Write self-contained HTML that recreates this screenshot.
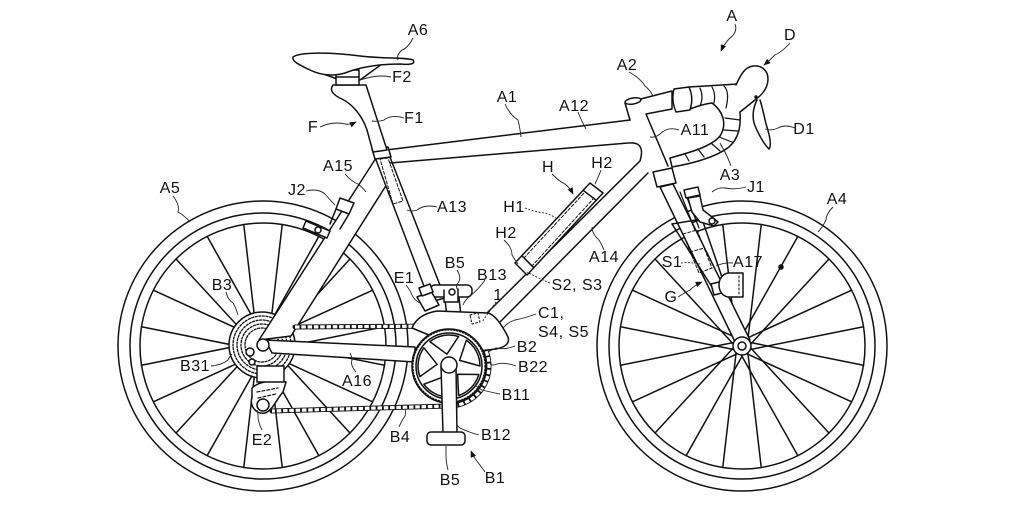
<!DOCTYPE html>
<html><head><meta charset="utf-8">
<style>
html,body{margin:0;padding:0;background:#fff;}
svg{display:block;}
text{font-family:"Liberation Sans",sans-serif;font-size:16px;fill:#111;letter-spacing:0.5px;}
</style></head><body>
<svg width="1024" height="508" viewBox="0 0 1024 508" xmlns="http://www.w3.org/2000/svg">
<defs>
<line id="spA" x1="5" y1="-2" x2="0" y2="-123"/>
<line id="spB" x1="-5" y1="-2" x2="0" y2="-123"/>
<marker id="ar" viewBox="0 0 10 10" refX="9" refY="5" markerUnits="userSpaceOnUse" markerWidth="7" markerHeight="7" orient="auto"><path d="M0,1 L10,5 L0,9 z" fill="#111" stroke="none"/></marker>
</defs>
<rect width="1024" height="508" fill="#fff"/>
<g fill="none" stroke="#111" stroke-width="1.5" stroke-linejoin="round" stroke-linecap="round">

<!-- REAR WHEEL -->
<g transform="translate(263 346)">
<circle r="145"/><circle r="133"/><circle r="123"/>
<use href="#spA" transform="rotate(9)"/><use href="#spB" transform="rotate(27)"/>
<use href="#spA" transform="rotate(45)"/><use href="#spB" transform="rotate(63)"/>
<use href="#spA" transform="rotate(81)"/><use href="#spB" transform="rotate(99)"/>
<use href="#spA" transform="rotate(117)"/><use href="#spB" transform="rotate(135)"/>
<use href="#spA" transform="rotate(153)"/><use href="#spB" transform="rotate(171)"/>
<use href="#spA" transform="rotate(189)"/><use href="#spB" transform="rotate(207)"/>
<use href="#spA" transform="rotate(225)"/><use href="#spB" transform="rotate(243)"/>
<use href="#spA" transform="rotate(261)"/><use href="#spB" transform="rotate(279)"/>
<use href="#spA" transform="rotate(297)"/><use href="#spB" transform="rotate(315)"/>
<use href="#spA" transform="rotate(333)"/><use href="#spB" transform="rotate(351)"/>
</g>

<!-- FRONT WHEEL -->
<g transform="translate(742 346)">
<circle r="145"/><circle r="133"/><circle r="123"/>
<use href="#spA" transform="rotate(9)"/><use href="#spB" transform="rotate(27)"/>
<use href="#spA" transform="rotate(45)"/><use href="#spB" transform="rotate(63)"/>
<use href="#spA" transform="rotate(81)"/><use href="#spB" transform="rotate(99)"/>
<use href="#spA" transform="rotate(117)"/><use href="#spB" transform="rotate(135)"/>
<use href="#spA" transform="rotate(153)"/><use href="#spB" transform="rotate(171)"/>
<use href="#spA" transform="rotate(189)"/><use href="#spB" transform="rotate(207)"/>
<use href="#spA" transform="rotate(225)"/><use href="#spB" transform="rotate(243)"/>
<use href="#spA" transform="rotate(261)"/><use href="#spB" transform="rotate(279)"/>
<use href="#spA" transform="rotate(297)"/><use href="#spB" transform="rotate(315)"/>
<use href="#spA" transform="rotate(333)"/><use href="#spB" transform="rotate(351)"/>
</g>

<!-- CASSETTE -->
<circle cx="262" cy="345" r="33" fill="#fff"/>
<g stroke-width="1.3" stroke-dasharray="2 1.6">
<circle cx="262" cy="345" r="29"/><circle cx="262" cy="345" r="25"/><circle cx="262" cy="345" r="21"/><circle cx="262" cy="345" r="17"/>
</g>

<!-- FRAME -->
<path d="M265,340 L415,347 L415,362 L272,353 Z" fill="#fff"/>
<path d="M259,340 L376,158 L387,184 L291,336 Z" fill="#fff"/>
<path d="M373,152 L388,152 L445,298 L430,302 Z" fill="#fff"/>
<path d="M380,159 L388,158 L403,201 L393,204 Z" stroke-dasharray="3 2" stroke-width="1"/>
<path d="M386,150 L630,120"/>
<path d="M390,163 L628,143 Q646,141 640,161 L487,313"/>
<path d="M648,173 L497,325"/>
<path d="M630,120 L625,103 L672,91 L672,109 L646,114 L668,166"/>
<ellipse cx="633" cy="101" rx="8" ry="3" transform="rotate(-10 633 101)" fill="#fff"/>
<path d="M372,149 L388,147 L391,157 L375,159 Z" fill="#fff"/>
<path d="M653,172 L672,168 L676,183 L657,187 Z" fill="#fff"/>
<path d="M660,187 L673,184 L750,340 L736,344 Z" fill="#fff"/>
<path d="M672,224 L702,219 L724,283 L712,287 Z"/>
<path d="M711,284 L723,281 L726,292 L714,295 Z" fill="#fff"/>
<path d="M683,234 L697,230 L712,268 L699,273 Z" stroke-dasharray="3 2" stroke-width="1"/>
<path d="M690,252 L704,248" stroke-dasharray="3 2" stroke-width="1"/>
<circle cx="742" cy="346" r="9" fill="#fff"/><circle cx="742" cy="346" r="4"/>
<circle cx="263" cy="345" r="6" fill="#fff"/>
<circle cx="250" cy="352" r="4" fill="#fff"/>
<circle cx="252" cy="362" r="3" fill="#fff"/>

<!-- CHAIN -->
<path d="M295,327 L449,326 A40 40 0 0 1 449,406 L272,411" stroke-width="5"/>
<path d="M295,327 L449,326 A40 40 0 0 1 449,406 L272,411" stroke="#fff" stroke-width="3.2" stroke-dasharray="4.5 1.8" stroke-linecap="butt"/>
<!-- rear derailleur -->
<path d="M252,388 C258,382 272,379 286,382 L283,392 C276,400 273,410 265,413 C256,415 249,405 252,398 Z" fill="#fff"/>
<path d="M257,392 L278,388" stroke-dasharray="3 2" stroke-width="1.2"/>
<path d="M258,398 L276,394" stroke-dasharray="3 2" stroke-width="1.2"/>
<circle cx="263" cy="405" r="6" fill="#fff"/>
<rect x="257" y="366" width="27" height="16" fill="#fff"/>

<!-- upper pedal (B5) -->
<path d="M444,290 L447,318 M458,289 L461,316"/>
<rect x="430" y="285" width="42" height="12" rx="5" fill="#fff"/>
<path d="M444,290 L444,302 L458,302 L458,289" fill="#fff"/>
<circle cx="452" cy="292" r="3"/>

<!-- motor housing C1 -->
<path d="M412,328 C416,318 425,313 437,311 L488,313 C496,315 504,329 508,337 C510,343 506,347 496,349 L470,352 Z" fill="#fff"/>
<path d="M470,315 L478,313 L480,322 L472,324 Z" stroke-dasharray="2 2" stroke-width="1"/>
<path d="M417,297 L431,291 L439,305 L425,311 Z" fill="#fff"/>
<path d="M419,288 L430,284 L433,292 L422,296 Z" fill="#fff"/>

<!-- CHAINRING -->
<circle cx="449" cy="366" r="37" fill="#fff"/>
<circle cx="449" cy="366" r="36" stroke-dasharray="1.5 1.5" stroke-width="1.1"/>
<circle cx="449" cy="366" r="33"/>
<path d="M446.9,354.2 L429.9,341.6 A31 31 0 0 1 458.6,336.5 Z"/>
<path d="M459.6,360.4 L466.3,340.3 A31 31 0 0 1 480,366 Z"/>
<path d="M457.6,374.3 L478.8,374.5 A31 31 0 0 1 458.6,395.5 Z"/>
<path d="M443.7,376.8 L450.1,397 A31 31 0 0 1 423.9,384.2 Z"/>
<path d="M437.1,364.3 L419.9,376.6 A31 31 0 0 1 423.9,347.8 Z"/>
<path d="M441,366 L443,433 L457,433 L456,366 Z" fill="#fff"/>
<circle cx="449" cy="365" r="8" fill="#fff"/>
<rect x="427" y="432" width="38" height="13" rx="4" fill="#fff"/>

<!-- SEAT POST & SADDLE -->
<path d="M333,85 L366,85 L387,150 L373,152 L367,130 C362,115 352,104 342,99 C333,95 329,90 333,85 Z" fill="#fff"/>
<path d="M318,72 L340,80 M382,64 L360,80"/>
<rect x="336" y="70" width="23" height="15" fill="#fff"/>
<path d="M336,77 L359,77"/>
<path d="M293,57 C300,52 330,52 360,56 C385,59 405,57 413,60 C416,64 410,65 400,64 C380,64 360,67 345,73 C335,76 322,76 310,70 C300,65 292,62 293,57 Z" fill="#fff"/>

<!-- HANDLEBAR -->
<path d="M689,87 L738,84"/>
<path d="M690,109 Q703,104 712,103"/>
<path d="M674,89 L689,87 Q694,98 690,110 L676,112 Q671,100 674,89 Z" fill="#fff"/>
<path d="M736,85 C741,74 745,67 753,66 C761,65 768,70 768,79 C768,88 762,95 755,100 L740,112" fill="#fff"/>
<path d="M740,112 C741,126 739,138 729,147 C716,157 695,163 672,167 L670,158 C692,152 712,146 720,136 C727,125 724,112 712,103"/>
<path d="M700,88 Q704,97 700,106 M712,87 Q716,94 714,103 M724,86 Q730,92 726,108" stroke-width="1.2"/>
<path d="M740,120 L725,118 M738,131 L724,130 M732,142 L719,137 M720,151 L711,143 M704,157 L698,149 M689,161 L685,154" stroke-width="1.2"/>
<path d="M757,100 C752,110 752,120 756,128 C760,137 765,145 769,149 C772,145 769,133 766,124 C764,115 762,106 760,100" fill="#fff"/>
<circle cx="756" cy="97" r="1" fill="#111"/>

<!-- J1 front brake -->
<path d="M680,192 L695,230 M684,190 L699,228" stroke-width="1.2"/>
<path d="M684,190 L698,187 L700,195 L686,198 Z" fill="#fff"/>
<path d="M688,198 L700,196 L703,210 L712,217 L718,222 L714,226 L700,222 L692,212 Z" fill="#fff"/>
<circle cx="712" cy="221" r="3"/>
<path d="M728,273 L743,273 L743,297 L728,297 C716,295 716,275 728,273 Z" fill="#fff"/>
<path d="M739,276 L739,294" stroke-dasharray="2 2" stroke-width="1"/>
<circle cx="781" cy="267" r="2" fill="#111"/>

<!-- J2 rear brake -->
<path d="M340,198 L354,203 L349,214 L336,209 Z" fill="#fff"/>
<path d="M336,209 L330,224 M349,214 L340,229"/>
<path d="M306,221 L330,231 L327,238 L303,228 Z" fill="#fff"/>
<circle cx="318" cy="230" r="3"/>

<!-- BATTERY H -->
<path d="M515,263 L527,275 L603,193 L590,183 Z" fill="#fff"/>
<path d="M521.8,255.7 L533.8,267.7 M583.2,190.3 L596.2,200.3"/>
<path d="M524,258 L585,192 L594,198 L532,266 Z" stroke-dasharray="3 2" stroke-width="1"/>
</g>

<!-- LEADERS -->
<g fill="none" stroke="#222" stroke-width="0.9">
<path d="M413,38 Q408,48 402,50 Q396,55 398,60"/>
<path d="M391,77 Q378,74 360,80"/>
<path d="M404,118 Q392,114 384,120 Q378,122 372,121"/>
<path d="M320,127 Q333,121 345,124 Q350,125 356,122" marker-end="url(#ar)"/>
<path d="M345,174 Q352,182 358,184 Q363,188 366,192"/>
<path d="M306,191 Q318,188 325,194 Q330,200 335,205"/>
<path d="M173,196 Q180,205 178,212 Q185,216 190,222"/>
<path d="M437,207 Q425,204 417,210 Q412,212 407,210"/>
<path d="M505,104 Q510,115 518,120 Q520,128 521,137"/>
<path d="M578,112 Q582,122 586,129"/>
<path d="M629,72 Q640,78 645,86 Q650,90 653,96"/>
<path d="M679,130 Q668,126 660,134 Q655,138 650,137"/>
<path d="M790,43 Q782,52 775,55 Q770,60 764,65" marker-end="url(#ar)"/>
<path d="M735,24 Q738,32 730,38 Q724,44 721,51" marker-end="url(#ar)"/>
<path d="M795,128 Q785,124 778,128 Q772,131 765,129"/>
<path d="M731,166 Q728,158 725,152 Q722,147 720,143"/>
<path d="M746,187 Q735,190 725,188 Q718,187 712,192"/>
<path d="M833,207 Q826,214 826,220 Q822,228 818,232"/>
<path d="M552,174 Q560,182 565,184 Q570,188 573,194" marker-end="url(#ar)"/>
<path d="M601,170 Q598,178 595,184"/>
<path d="M525,208 Q535,212 545,213 Q552,215 557,219" stroke-dasharray="2 1.5"/>
<path d="M504,240 Q512,247 512,255 Q515,260 518,264"/>
<path d="M604,250 Q600,240 596,237 Q592,232 592,227"/>
<path d="M550,283 Q538,278 527,272" stroke-dasharray="2 1.5"/>
<path d="M681,263 Q690,262 700,264" stroke-dasharray="2 1.5"/>
<path d="M733,263 Q725,262 716,266"/>
<path d="M678,297 Q686,292 690,290 Q695,285 702,282" marker-end="url(#ar)"/>
<path d="M457,270 Q462,278 458,283 Q455,287 458,290"/>
<path d="M485,280 Q478,290 470,296 Q465,300 463,305"/>
<path d="M496,302 L482,322" stroke-dasharray="2 1.5"/>
<path d="M406,285 Q410,290 412,295 Q414,300 420,303"/>
<path d="M536,314 Q525,318 515,320 Q508,322 503,328"/>
<path d="M515,346 Q505,350 496,348 Q492,350 488,352"/>
<path d="M516,366 Q505,362 497,364 Q493,366 490,364"/>
<path d="M500,394 Q490,392 482,390 Q478,388 475,385"/>
<path d="M479,435 Q468,432 460,428 Q456,426 457,420"/>
<path d="M399,427 Q402,420 405,416 Q406,412 405,409"/>
<path d="M226,292 Q228,300 233,303 Q236,308 238,315"/>
<path d="M211,366 Q222,365 228,360 Q230,356 232,354"/>
<path d="M356,372 Q350,365 352,360 Q352,357 350,353"/>
<path d="M262,430 Q258,422 258,416 Q258,412 257,410"/>
<path d="M448,470 Q446,462 446,455 Q446,450 446,446"/>
<path d="M485,472 Q480,465 476,460 Q473,456 471,451" marker-end="url(#ar)"/>
</g>

<!-- LABELS -->
<g text-anchor="middle">
<text x="732" y="21">A</text>
<text x="790" y="40">D</text>
<text x="418" y="35">A6</text>
<text x="402" y="82">F2</text>
<text x="627" y="70">A2</text>
<text x="507" y="102">A1</text>
<text x="574" y="111">A12</text>
<text x="414" y="123">F1</text>
<text x="313" y="132">F</text>
<text x="695" y="135">A11</text>
<text x="804" y="134">D1</text>
<text x="338" y="171">A15</text>
<text x="730" y="180">A3</text>
<text x="548" y="172">H</text>
<text x="602" y="168">H2</text>
<text x="756" y="192">J1</text>
<text x="170" y="193">A5</text>
<text x="297" y="195">J2</text>
<text x="837" y="204">A4</text>
<text x="452" y="212">A13</text>
<text x="514" y="212">H1</text>
<text x="506" y="238">H2</text>
<text x="604" y="262">A14</text>
<text x="672" y="267">S1</text>
<text x="748" y="267">A17</text>
<text x="455" y="268">B5</text>
<text x="492" y="280">B13</text>
<text x="404" y="283">E1</text>
<text x="577" y="290">S2, S3</text>
<text x="222" y="290">B3</text>
<text x="498" y="300">1</text>
<text x="671" y="302">G</text>
<text x="527" y="352">B2</text>
<text x="195" y="371">B31</text>
<text x="533" y="372">B22</text>
<text x="357" y="386">A16</text>
<text x="516" y="400">B11</text>
<text x="496" y="440">B12</text>
<text x="400" y="442">B4</text>
<text x="262" y="445">E2</text>
<text x="450" y="485">B5</text>
<text x="495" y="483">B1</text>
</g>
<text x="538" y="318">C1,</text>
<text x="538" y="337">S4, S5</text>
</svg>
</body></html>
